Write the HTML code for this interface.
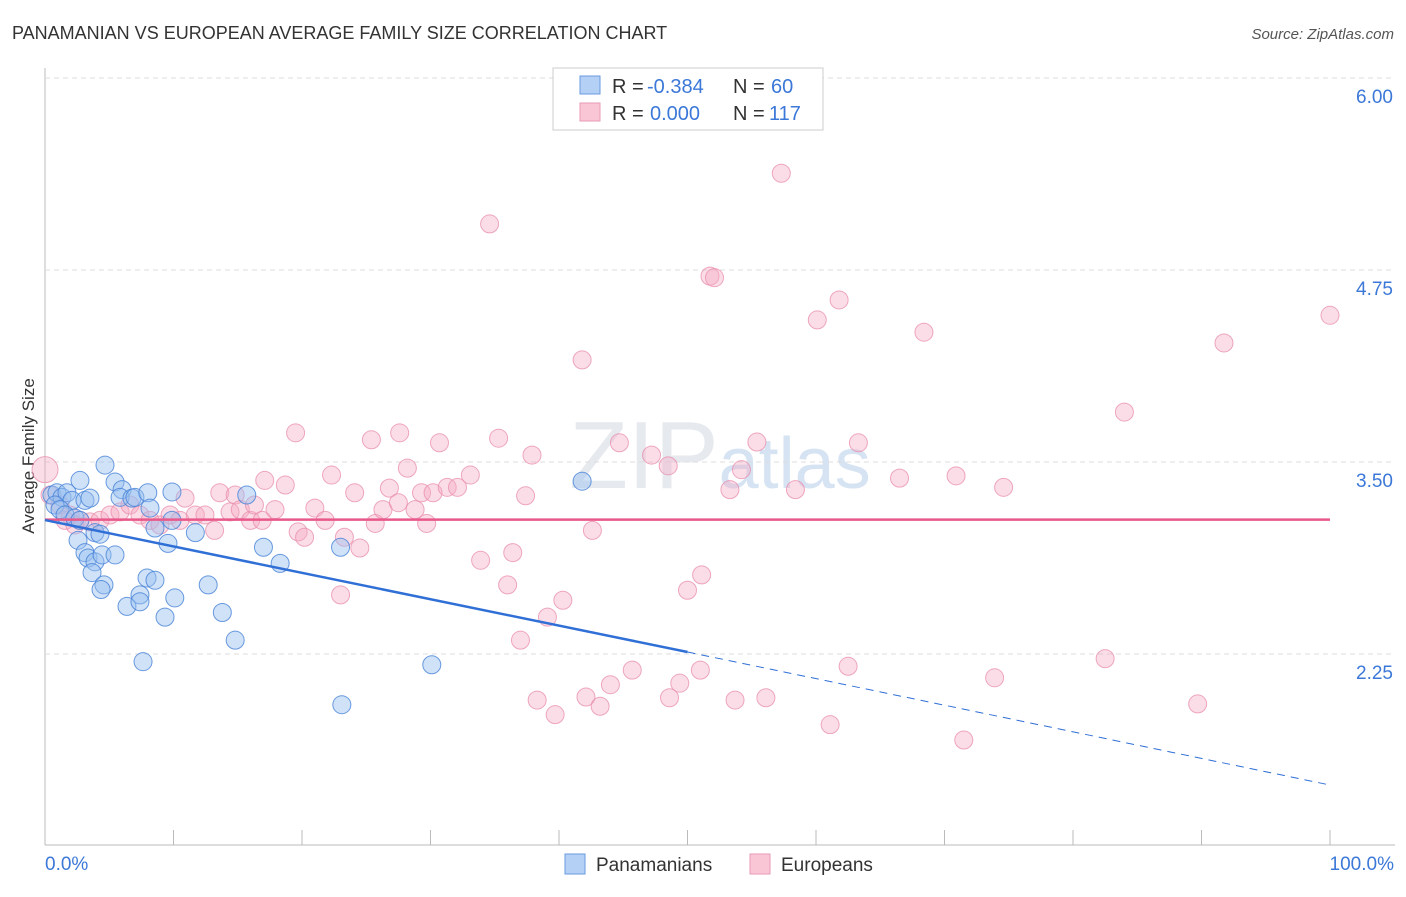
<!DOCTYPE html>
<html><head><meta charset="utf-8"><style>
body{margin:0;background:#fff;font-family:"Liberation Sans",sans-serif;}
svg text{font-family:"Liberation Sans",sans-serif;}
</style></head><body>
<svg id="chart" width="1406" height="892" xmlns="http://www.w3.org/2000/svg">
<text x="12" y="39" font-size="18" fill="#333">PANAMANIAN VS EUROPEAN AVERAGE FAMILY SIZE CORRELATION CHART</text>
<text x="1394" y="39" font-size="15" fill="#555" text-anchor="end" font-style="italic">Source: ZipAtlas.com</text>
<text x="720" y="488" font-size="96" fill="#e6e9ee" text-anchor="middle" font-family="Liberation Serif">ZIP<tspan font-family="Liberation Sans" font-size="72" fill="#d6e3f3">atlas</tspan></text>
<text transform="translate(34,456) rotate(-90)" font-size="17" fill="#333" text-anchor="middle">Average Family Size</text>
<g id="grid"></g>
<g id="marks"></g>
<g id="legend">
<rect x="553" y="68" width="270" height="62" fill="#fff" stroke="#ccc"/>
<rect x="580" y="76" width="20" height="18" fill="#b4d0f4" stroke="#6a9ae0"/>
<rect x="580" y="103" width="20" height="18" fill="#f9c6d6" stroke="#ea9ab6"/>
<text x="612" y="93" font-size="20" fill="#333">R =</text>
<text x="647" y="93" font-size="20" fill="#3c78d8">-0.384</text>
<text x="733" y="93" font-size="20" fill="#333">N =</text>
<text x="771" y="93" font-size="20" fill="#3c78d8">60</text>
<text x="612" y="120" font-size="20" fill="#333">R =</text>
<text x="650" y="120" font-size="20" fill="#3c78d8">0.000</text>
<text x="733" y="120" font-size="20" fill="#333">N =</text>
<text x="769" y="120" font-size="20" fill="#3c78d8">117</text>
<rect x="565" y="854" width="20" height="20" fill="#b4d0f4" stroke="#6a9ae0"/>
<text x="596" y="871" font-size="19" fill="#333">Panamanians</text>
<rect x="750" y="854" width="20" height="20" fill="#f9c6d6" stroke="#ea9ab6"/>
<text x="781" y="871" font-size="19" fill="#333">Europeans</text>
</g>
</svg>
<script>
const yTicks=[6.00,4.75,3.50,2.25];
const yTickLabels=["6.00","4.75","3.50","2.25"];
const xTickLabels=["0.0%","100.0%"];
const blueX=[0.54,0.93,1.32,1.71,2.10,0.78,1.17,1.56,2.33,2.72,3.11,3.50,2.72,4.67,5.45,6.0,5.84,6.77,7.0,8.0,9.88,9.88,8.17,8.56,2.57,3.11,3.89,4.28,3.35,3.89,3.66,4.44,5.45,4.59,4.36,7.94,8.56,7.39,6.38,7.39,10.1,9.34,12.7,13.8,14.8,7.63,9.57,11.7,17.0,18.3,15.7,23.0,30.1,23.1,41.8];
const blueY=[3.285,3.30,3.27,3.30,3.25,3.22,3.19,3.155,3.135,3.12,3.25,3.265,3.38,3.48,3.37,3.32,3.27,3.265,3.27,3.30,3.305,3.12,3.20,3.07,2.99,2.91,3.04,3.03,2.875,2.85,2.78,2.895,2.895,2.70,2.67,2.745,2.73,2.635,2.56,2.59,2.615,2.49,2.70,2.52,2.34,2.20,2.97,3.04,2.945,2.84,3.285,2.945,2.18,1.92,3.375];
const pinkX=[0,0.39,1.17,1.95,2.72,3.50,4.28,1.56,2.33,5.06,5.84,6.61,7.39,8.17,8.95,9.73,10.9,10.5,11.7,12.45,13.2,13.6,14.4,14.8,15.2,16.0,16.3,16.9,17.1,17.9,18.7,19.5,19.7,20.2,21.0,21.8,22.3,23.0,23.3,24.1,24.5,25.4,25.7,26.3,26.8,27.5,27.6,28.2,28.8,29.3,29.7,30.2,30.7,31.3,32.1,33.1,33.9,34.6,35.3,36.0,36.4,37.0,37.4,37.9,38.3,39.1,39.7,40.3,41.8,42.1,42.6,43.2,44.0,44.7,45.7,47.2,48.6,48.5,49.4,50.0,51.0,51.1,51.75,52.1,53.3,53.7,54.2,55.4,56.1,57.3,58.4,60.1,61.1,61.8,62.5,63.3,66.5,68.4,70.9,71.5,73.9,74.6,82.5,84.0,89.7,91.75,100];
const pinkY=[3.45,3.285,3.22,3.155,3.12,3.11,3.12,3.12,3.09,3.155,3.175,3.22,3.155,3.12,3.09,3.155,3.265,3.12,3.155,3.155,3.055,3.30,3.175,3.285,3.19,3.12,3.22,3.12,3.38,3.19,3.35,3.69,3.045,3.01,3.20,3.12,3.415,2.635,3.01,3.30,2.94,3.645,3.10,3.19,3.33,3.235,3.69,3.46,3.19,3.30,3.10,3.30,3.625,3.335,3.335,3.415,2.86,5.05,3.655,2.70,2.91,2.34,3.28,3.545,1.95,2.49,1.855,2.60,4.165,1.97,3.055,1.91,2.05,3.625,2.145,3.545,1.965,3.475,2.06,2.665,2.145,2.765,4.71,4.70,3.32,1.95,3.45,3.63,1.965,5.38,3.32,4.425,1.79,4.555,2.17,3.625,3.395,4.345,3.41,1.69,2.095,3.335,2.22,3.825,1.925,4.275,4.455];
const blueTrend=[3.122,2.263,1.397];
const pinkTrend=[3.125,3.125];

const NS="http://www.w3.org/2000/svg";
const X=v=>45+v*12.85;
const Y=v=>462-(v-3.5)*153.6;
const grid=document.getElementById('grid');
const marks=document.getElementById('marks');
function mk(tag,attrs,parent){const e=document.createElementNS(NS,tag);for(const k in attrs)e.setAttribute(k,attrs[k]);parent.appendChild(e);return e;}
let ax=mk('line',{x1:45,y1:68,x2:45,y2:845,stroke:'#bbb'},grid);


let bx=mk('line',{x1:45,y1:845,x2:1395,y2:845,stroke:'#bbb'},grid);


yTicks.forEach((t,i)=>{
  const g=mk('line',{x1:45,y1:Y(t),x2:1395,y2:Y(t),stroke:'#ddd','stroke-dasharray':'5,4'},grid);
  
  
  const tx=mk('text',{x:1393,y:Y(t)+25,'font-size':19,fill:'#3c78d8','text-anchor':'end'},grid);
  tx.textContent=yTickLabels[i];
  
  
});
for(let i=0;i<=10;i++){
  const t=mk('line',{x1:X(i*10),y1:830,x2:X(i*10),y2:845,stroke:'#bbb'},grid);
  
  
}
const xl0=mk('text',{x:45,y:870,'font-size':19,fill:'#3c78d8'},grid);xl0.textContent=xTickLabels[0];


const xl1=mk('text',{x:1394,y:870,'font-size':19,fill:'#3c78d8','text-anchor':'end'},grid);xl1.textContent=xTickLabels[1];



pinkX.forEach((x,i)=>{
  const c=mk('circle',{cx:X(x),cy:Y(pinkY[i]),r:i===0?13:9,fill:'rgba(246,170,196,0.4)',stroke:'rgba(232,140,172,0.75)','stroke-width':1},marks);
  
  
});
blueX.forEach((x,i)=>{
  const c=mk('circle',{cx:X(x),cy:Y(blueY[i]),r:9,fill:'rgba(150,190,240,0.45)',stroke:'rgba(70,130,215,0.8)','stroke-width':1},marks);
  
  
});
const pl=mk('line',{x1:X(0),y1:Y(pinkTrend[0]),x2:X(100),y2:Y(pinkTrend[1]),stroke:'#e8588a','stroke-width':2.5},marks);


const bl=mk('line',{x1:X(0),y1:Y(blueTrend[0]),x2:X(50),y2:Y(blueTrend[1]),stroke:'#2f6fd6','stroke-width':2.5},marks);


const bd=mk('line',{x1:X(50),y1:Y(blueTrend[1]),x2:X(100),y2:Y(blueTrend[2]),stroke:'#2f6fd6','stroke-width':1,'stroke-dasharray':'8,6'},marks);


</script>
</body></html>
